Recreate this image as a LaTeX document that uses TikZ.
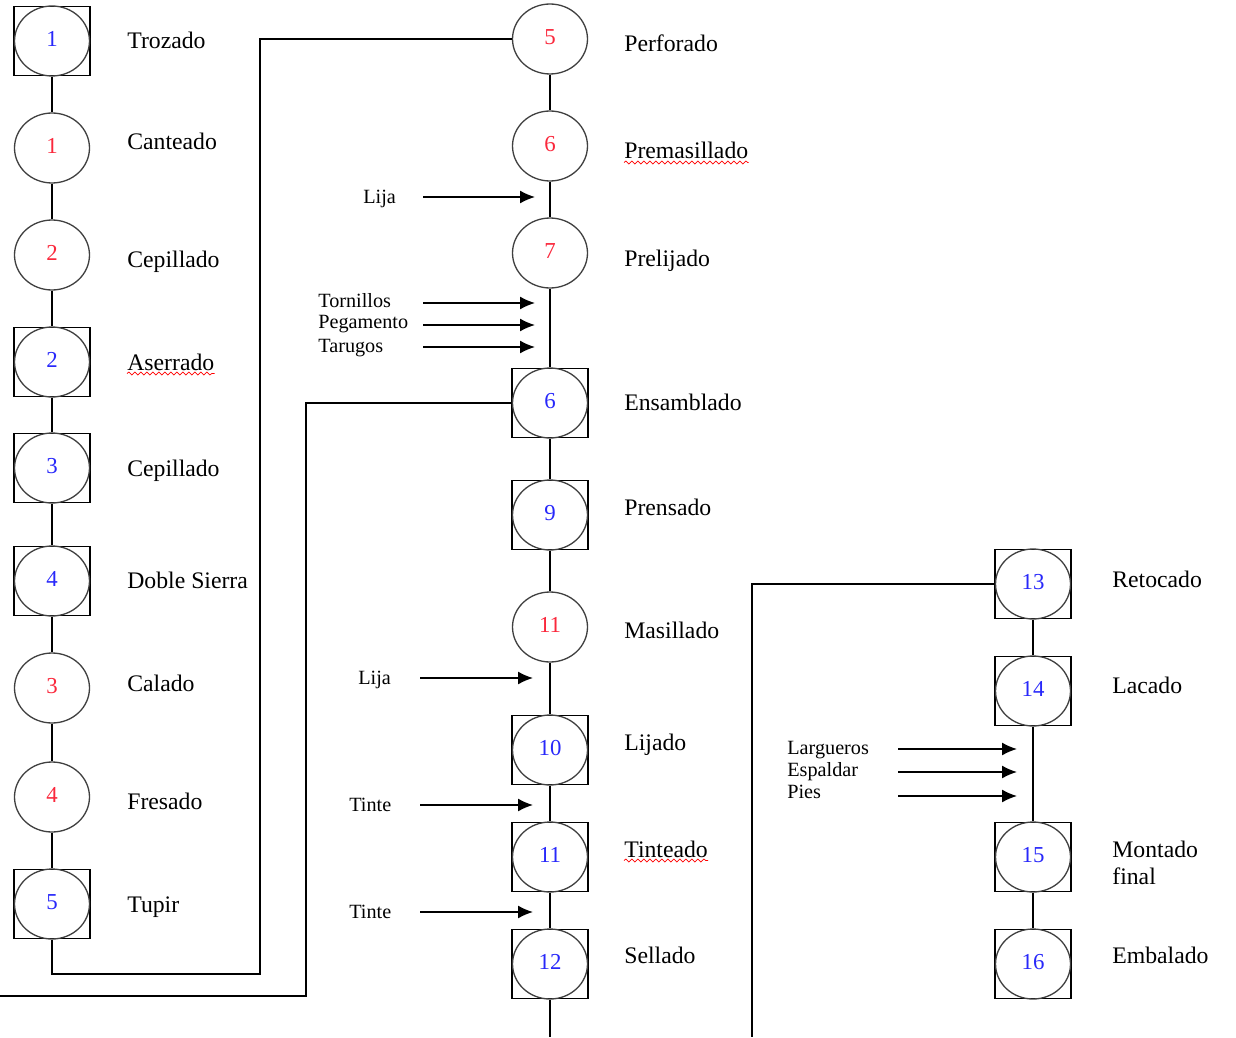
\documentclass[tikz,border=0pt]{standalone}
\usepackage{fontspec}
\setmainfont{Liberation Serif}
\usetikzlibrary{shapes.geometric,arrows.meta,decorations.pathmorphing}
\definecolor{numblue}{RGB}{40,40,250}
\definecolor{numred}{RGB}{250,40,60}
\newcommand\sqstep[4]{\node[box] (#1q) at (#2) {}; \node[ring,#3] (#1) at (#2) {\raisebox{2pt}{#4}};}
\newcommand\rstep[4]{\node[ring,#3] (#1) at (#2) {\raisebox{2pt}{#4}};}
\begin{document}
\begin{tikzpicture}[x=0.02cm,y=-0.02cm,
 ring/.style={ellipse, draw=black!75, line width=0.75pt, minimum width=1.5cm, minimum height=1.4cm, inner sep=0pt, font=\fontsize{13}{15}\selectfont},
 box/.style={rectangle, draw=black, line width=0.85pt, minimum width=1.52cm, minimum height=1.38cm, inner sep=0pt},
 blu/.style={text=numblue}, rd/.style={text=numred},
 lbl/.style={anchor=base west, inner sep=0pt, font=\fontsize{13.5}{16}\selectfont},
 sml/.style={anchor=base west, inner sep=0pt, font=\fontsize{11.5}{13}\selectfont},
 link/.style={draw=black, line width=0.85pt},
 feed/.style={link, -{Latex[length=3mm,width=2.6mm]}},
 squig/.style={draw=red, line width=0.4pt, decorate, decoration={snake, amplitude=0.3mm, segment length=1.2mm}}]
\useasboundingbox (0,0) rectangle (1236,1037);
% column 1
\sqstep{a1}{52,41}{blu}{1}
\rstep{a2}{52,148}{rd}{1}
\rstep{a3}{52,255}{rd}{2}
\sqstep{a4}{52,362}{blu}{2}
\sqstep{a5}{52,468}{blu}{3}
\sqstep{a6}{52,581}{blu}{4}
\rstep{a7}{52,688}{rd}{3}
\rstep{a8}{52,797}{rd}{4}
\sqstep{a9}{52,904}{blu}{5}
% column 2
\rstep{b1}{550,39}{rd}{5}
\rstep{b2}{550,146}{rd}{6}
\rstep{b3}{550,253}{rd}{7}
\sqstep{b4}{550,403}{blu}{6}
\sqstep{b5}{550,515}{blu}{9}
\rstep{b6}{550,627}{rd}{11}
\sqstep{b7}{550,750}{blu}{10}
\sqstep{b8}{550,857}{blu}{11}
\sqstep{b9}{550,964}{blu}{12}
% column 3
\sqstep{c1}{1033,584}{blu}{13}
\sqstep{c2}{1033,691}{blu}{14}
\sqstep{c3}{1033,857}{blu}{15}
\sqstep{c4}{1033,964}{blu}{16}
% labels column 1
\node[lbl] (la1) at (127,49) {Trozado};
\node[lbl] (la2) at (127,150) {Canteado};
\node[lbl] (la3) at (127,267) {Cepillado};
\node[lbl] (la4) at (127,370) {Aserrado};
\node[lbl] (la5) at (127,476) {Cepillado};
\node[lbl] (la6) at (127,588) {Doble Sierra};
\node[lbl] (la7) at (127,691) {Calado};
\node[lbl] (la8) at (127,809) {Fresado};
\node[lbl] (la9) at (127,912) {Tupir};
% labels column 2
\node[lbl] (lb1) at (624,52) {Perforado};
\node[lbl] (lb2) at (624,159) {Premasillado};
\node[lbl] (lb3) at (624,266) {Prelijado};
\node[lbl] (lb4) at (624,410) {Ensamblado};
\node[lbl] (lb5) at (624,515) {Prensado};
\node[lbl] (lb6) at (624,638) {Masillado};
\node[lbl] (lb7) at (624,750) {Lijado};
\node[lbl] (lb8) at (624,857) {Tinteado};
\node[lbl] (lb9) at (624,963) {Sellado};
% labels column 3
\node[lbl] (lc1) at (1112,587) {Retocado};
\node[lbl] (lc2) at (1112,693) {Lacado};
\node[lbl] (lc3) at (1112,857) {Montado};
\node[lbl] (lc3b) at (1112,884) {final};
\node[lbl] (lc4) at (1112,963) {Embalado};
% spell-check squiggles
\draw[squig] ([yshift=-2pt]la4.base west) -- ([yshift=-2pt]la4.base east);
\draw[squig] ([yshift=-2pt]lb2.base west) -- ([yshift=-2pt]lb2.base east);
\draw[squig] ([yshift=-2pt]lb8.base west) -- ([yshift=-2pt]lb8.base east);
% small input labels
\node[sml] (i1) at (363,203) {Lija};
\node[sml] (i2) at (318,307) {Tornillos};
\node[sml] (i3) at (318,328) {Pegamento};
\node[sml] (i4) at (318,352) {Tarugos};
\node[sml] (i5) at (358,684) {Lija};
\node[sml] (i6) at (349,811) {Tinte};
\node[sml] (i7) at (349,918) {Tinte};
\node[sml] (i8) at (787,754) {Largueros};
\node[sml] (i9) at (787,776) {Espaldar};
\node[sml] (i10) at (787,798) {Pies};
% input arrow coordinates
\foreach \n/\xa/\xb/\yy in {1/423/535/197, 2/423/535/303, 3/423/535/325, 4/423/535/347,
  5/420/533/678, 6/420/533/805, 7/420/533/912, 8/898/1017/749, 9/898/1017/772, 10/898/1017/796}{
  \coordinate (fs\n) at (\xa,\yy);
  \coordinate (fe\n) at (\xb,\yy);
  \draw[feed] (fs\n) -- (fe\n);
}
% chains
\foreach \u/\v in {a1/a2,a2/a3,a3/a4,a4/a5,a5/a6,a6/a7,a7/a8,a8/a9,
  b1/b2,b2/b3,b3/b4,b4/b5,b5/b6,b6/b7,b7/b8,b8/b9,
  c1/c2,c2/c3,c3/c4}{
  \draw[link] (\u.south) -- (\v.north);
}
% transfer lines
\coordinate (r1) at (52,974);
\coordinate (r2) at (260,974);
\coordinate (r3) at (260,39);
\draw[link] (a9.south) -- (r1) -- (r2) -- (r3) -- (b1.west);
\coordinate (r4) at (306,996);
\coordinate (r5) at (0,996);
\draw[link] (b4q.west) -| (r4) -- (r5);
\coordinate (r6) at (550,1037);
\draw[link] (b9.south) -- (r6);
\coordinate (r7) at (752,1037);
\draw[link] (c1q.west) -| (r7);
\end{tikzpicture}
\end{document}
